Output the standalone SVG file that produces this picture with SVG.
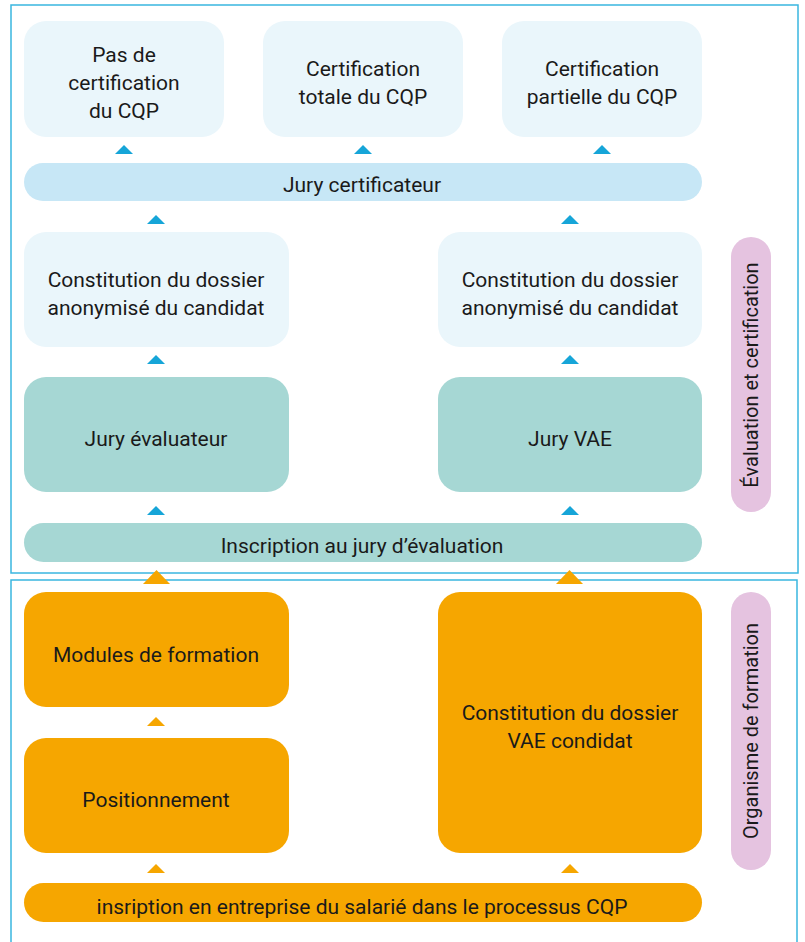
<svg xmlns="http://www.w3.org/2000/svg" width="805" height="942" viewBox="0 0 805 942">
<style>
text{font-family:Roboto,"Liberation Sans",sans-serif;font-size:21px;fill:#1a1a1a;text-anchor:middle}
.side{font-size:20px}
.frame{fill:none;stroke:#3ab6e0;stroke-width:1.5}
.light{fill:#eaf6fb}
.cert{fill:#c7e7f6}
.teal{fill:#a6d7d4}
.orange{fill:#f6a600}
.pink{fill:#e5c3e0}
.ab{fill:#16a5d8}
.ao{fill:#f6a600}
</style>
<rect x="11" y="5" width="787" height="568" class="frame"/>
<path d="M11 942 V580 H797 V942" class="frame"/>
<g id="pas-certif"><rect x="24" y="21" width="200" height="116" rx="22" class="light"/><text x="124" y="62">Pas de</text><text x="124" y="90">certification</text><text x="124" y="118">du CQP</text></g>
<g id="certif-totale"><rect x="263" y="21" width="200" height="116" rx="22" class="light"/><text x="363" y="76">Certification</text><text x="363" y="104">totale du CQP</text></g>
<g id="certif-partielle"><rect x="502" y="21" width="200" height="116" rx="22" class="light"/><text x="602" y="76">Certification</text><text x="602" y="104">partielle du CQP</text></g>
<g id="jury-cert"><rect x="24" y="163" width="678" height="38" rx="19" class="cert"/><text x="362" y="192">Jury certificateur</text></g>
<g id="dossier-left"><rect x="24" y="232" width="265" height="115" rx="22" class="light"/><text x="156" y="287">Constitution du dossier</text><text x="156" y="315">anonymisé du candidat</text></g>
<g id="dossier-right"><rect x="438" y="232" width="264" height="115" rx="22" class="light"/><text x="570" y="287">Constitution du dossier</text><text x="570" y="315">anonymisé du candidat</text></g>
<g id="jury-eval"><rect x="24" y="377" width="265" height="115" rx="22" class="teal"/><text x="156" y="446">Jury évaluateur</text></g>
<g id="jury-vae"><rect x="438" y="377" width="264" height="115" rx="22" class="teal"/><text x="570" y="446">Jury VAE</text></g>
<g id="inscription-jury"><rect x="24" y="523" width="678" height="39" rx="19.5" class="teal"/><text x="362" y="553">Inscription au jury d’évaluation</text></g>
<g id="modules"><rect x="24" y="592" width="265" height="115" rx="22" class="orange"/><text x="156" y="662">Modules de formation</text></g>
<g id="positionnement"><rect x="24" y="738" width="265" height="115" rx="22" class="orange"/><text x="156" y="807">Positionnement</text></g>
<g id="dossier-vae"><rect x="438" y="592" width="264" height="261" rx="22" class="orange"/><text x="570" y="720">Constitution du dossier</text><text x="570" y="748">VAE condidat</text></g>
<g id="inscription-entreprise"><rect x="24" y="883" width="678" height="39" rx="19.5" class="orange"/><text x="362" y="914">insription en entreprise du salarié dans le processus CQP</text></g>
<g id="label-eval"><rect x="731" y="237" width="40" height="275" rx="20" class="pink"/><text class="side" transform="translate(758 375) rotate(-90)">Évaluation et certification</text></g>
<g id="label-org"><rect x="731" y="592" width="40" height="278" rx="20" class="pink"/><text class="side" transform="translate(758 731) rotate(-90)">Organisme de formation</text></g>
<g id="connectors">
<path class="ab" d="M115 154 L124 145 L133 154 Z"/>
<path class="ab" d="M354 154 L363 145 L372 154 Z"/>
<path class="ab" d="M593 154 L602 145 L611 154 Z"/>
<path class="ab" d="M147 224 L156 215 L165 224 Z"/>
<path class="ab" d="M561 224 L570 215 L579 224 Z"/>
<path class="ab" d="M147 364 L156 355 L165 364 Z"/>
<path class="ab" d="M561 364 L570 355 L579 364 Z"/>
<path class="ab" d="M147 515 L156 506 L165 515 Z"/>
<path class="ab" d="M561 515 L570 506 L579 515 Z"/>
<path class="ao" d="M143 584 L156.5 570 L170 584 Z"/>
<path class="ao" d="M556 584 L569.5 570 L583 584 Z"/>
<path class="ao" d="M147 726 L156 717 L165 726 Z"/>
<path class="ao" d="M147 873 L156 864 L165 873 Z"/>
<path class="ao" d="M561 873 L570 864 L579 873 Z"/>
</g>
</svg>
